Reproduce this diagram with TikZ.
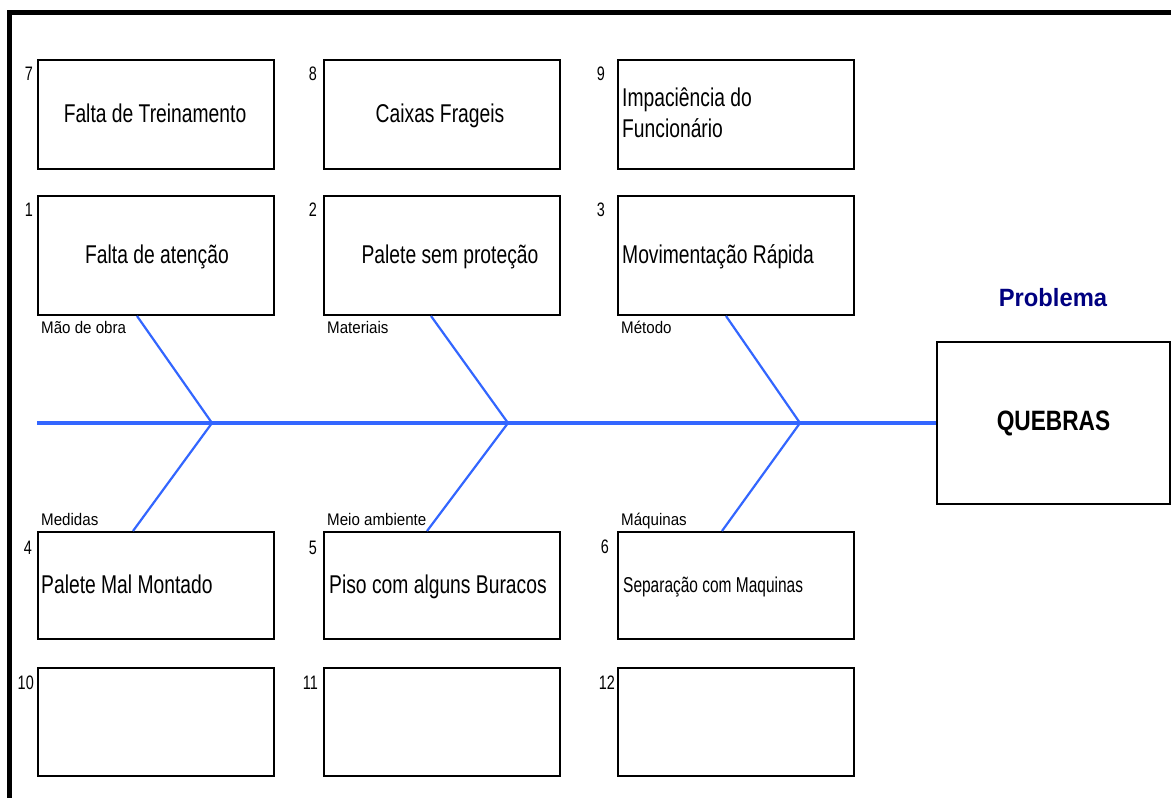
\documentclass[tikz,border=0pt]{standalone}
\usepackage{fontspec}
\setmainfont{Liberation Sans}
\newfontfamily\boxfont[FakeStretch=0.75]{Liberation Sans}
\newfontfamily\smallboxfont[FakeStretch=0.72]{Liberation Sans}
\newfontfamily\numfont[FakeStretch=0.74]{Liberation Sans}
\newfontfamily\labfont[FakeStretch=0.9]{Liberation Sans}
\newfontfamily\probfont[FakeStretch=0.95]{Liberation Sans}
\newfontfamily\quebfont[FakeStretch=0.81]{Liberation Sans}
\definecolor{bonecol}{RGB}{51,102,255}
\definecolor{navytext}{RGB}{0,0,128}
\begin{document}
\begin{tikzpicture}[x=1pt,y=-1pt,
  cbox/.style={draw, line width=2pt, inner sep=0pt, anchor=north west, minimum width=236pt},
  btext/.style={inner sep=0pt, font=\boxfont\fontsize{25.7}{31}\selectfont},
  num/.style={inner sep=0pt, anchor=north east, font=\numfont\fontsize{19.5}{22}\selectfont},
  lab/.style={inner sep=0pt, anchor=base west, font=\labfont\fontsize{16.8}{19}\selectfont},
  spine/.style={draw=bonecol, line width=3.3pt},
  bonel/.style={draw=bonecol, line width=2.2pt}]
\useasboundingbox (0,0) rectangle (1171,798);
% frame
\draw[line width=5pt] (9.5,798) -- (9.5,12.5) -- (1171,12.5);
% boxes
\node[cbox, minimum height=109pt] (b7) at (37,59) {};
\node[cbox, minimum height=109pt] (b8) at (323,59) {};
\node[cbox, minimum height=109pt] (b9) at (617,59) {};
\node[cbox, minimum height=119pt] (b1) at (37,195) {};
\node[cbox, minimum height=119pt] (b2) at (323,195) {};
\node[cbox, minimum height=119pt] (b3) at (617,195) {};
\node[cbox, minimum height=107pt] (b4) at (37,531) {};
\node[cbox, minimum height=107pt] (b5) at (323,531) {};
\node[cbox, minimum height=107pt] (b6) at (617,531) {};
\node[cbox, minimum height=108pt] (b10) at (37,667) {};
\node[cbox, minimum height=108pt] (b11) at (323,667) {};
\node[cbox, minimum height=108pt] (b12) at (617,667) {};
% numbers
\node[num] (n7) at ([xshift=-4pt,yshift=-8pt]b7.north west) {7};
\node[num] (n8) at ([xshift=-6pt,yshift=-8pt]b8.north west) {8};
\node[num] (n9) at ([xshift=-12pt,yshift=-8pt]b9.north west) {9};
\node[num] (n1) at ([xshift=-4pt,yshift=-8pt]b1.north west) {1};
\node[num] (n2) at ([xshift=-6pt,yshift=-8pt]b2.north west) {2};
\node[num] (n3) at ([xshift=-12pt,yshift=-8pt]b3.north west) {3};
\node[num] (n4) at ([xshift=-5pt,yshift=-10pt]b4.north west) {4};
\node[num] (n5) at ([xshift=-6pt,yshift=-10pt]b5.north west) {5};
\node[num] (n6) at ([xshift=-8pt,yshift=-9pt]b6.north west) {6};
\node[num] (n10) at ([xshift=-3pt,yshift=-9pt]b10.north west) {10};
\node[num] (n11) at ([xshift=-5pt,yshift=-9pt]b11.north west) {11};
\node[num] (n12) at ([xshift=-2pt,yshift=-9pt]b12.north west) {12};
% box texts
\node[btext, anchor=base] (x7) at (155,122) {Falta de Treinamento};
\node[btext, anchor=base] (x8) at (440,122) {Caixas Frageis};
\node[btext, anchor=west, align=left] (x9) at (622,113) {Impaciência do\\Funcionário};
\node[btext, anchor=base] (x1) at (157,263) {Falta de atenção};
\node[btext, anchor=base] (x2) at (450,263) {Palete sem proteção};
\node[btext, anchor=base west] (x3) at (622,263) {Movimentação Rápida};
\node[btext, anchor=base west] (x4) at (41,593) {Palete Mal Montado};
\node[btext, anchor=base west] (x5) at (329,593) {Piso com alguns Buracos};
\node[inner sep=0pt, anchor=base west, font=\smallboxfont\fontsize{21.5}{25}\selectfont] (x6) at (623,592) {Separação com Maquinas};
% category labels
\node[lab] (c1) at (41,333) {Mão de obra};
\node[lab] (c2) at (327,333) {Materiais};
\node[lab] (c3) at (621,333) {Método};
\node[lab] (c4) at (41,525) {Medidas};
\node[lab] (c5) at (327,525) {Meio ambiente};
\node[lab] (c6) at (621,525) {Máquinas};
% problem
\node[inner sep=0pt, anchor=base, text=navytext, font=\probfont\bfseries\fontsize{25}{30}\selectfont] (pr) at (1053,306) {Problema};
\node[draw, line width=2pt, inner sep=0pt, anchor=north west, minimum width=233pt, minimum height=162pt, font=\quebfont\bfseries\fontsize{28}{32}\selectfont] (q) at (936,341) {QUEBRAS};
% fishbone
\coordinate (s0) at (37,423);
\coordinate (j1) at (212,423);
\coordinate (j2) at (508,423);
\coordinate (j3) at (800,423);
\coordinate (t1) at ([xshift=100pt]b1.south west);
\coordinate (t2) at ([xshift=108pt]b2.south west);
\coordinate (t3) at ([xshift=109pt]b3.south west);
\coordinate (l1) at ([xshift=96pt]b4.north west);
\coordinate (l2) at ([xshift=104pt]b5.north west);
\coordinate (l3) at ([xshift=105pt]b6.north west);
\draw[spine] (s0) -- (q.west);
\draw[bonel] (t1) -- (j1) -- (l1);
\draw[bonel] (t2) -- (j2) -- (l2);
\draw[bonel] (t3) -- (j3) -- (l3);
\end{tikzpicture}
\end{document}
